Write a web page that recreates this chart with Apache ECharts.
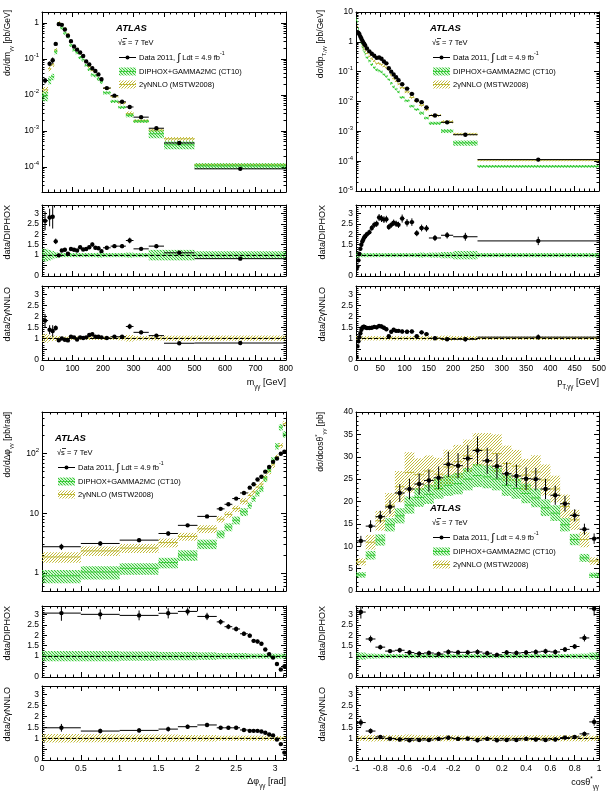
<!DOCTYPE html>
<html>
<head>
<meta charset="utf-8">
<script src="https://cdn.jsdelivr.net/npm/echarts@6/dist/echarts.min.js"></script>
<style>
html, body { margin: 0; padding: 0; background: #fff; }
#chart { width: 611px; height: 797px; }
</style>
</head>
<body>
<div id="chart"></div>
<script>
var FONT = '"Liberation Sans", Arial, sans-serif';

// ---- m_yy ----
var mEdges = [0, 20, 30, 40, 50, 60, 70, 80, 90, 100, 110, 120, 130, 140, 150, 160, 170, 180, 190, 200, 225, 250, 275, 300, 350, 400, 500, 800];
var mData = [0.025, 0.073, 0.091, 0.26, 0.92, 0.88, 0.65, 0.44, 0.31, 0.22, 0.18, 0.15, 0.12, 0.085, 0.07, 0.055, 0.046, 0.037, 0.027, 0.0154, 0.0095, 0.0064, 0.0046, 0.0024, 0.00118, 0.00046, 0.000088];
var mDataErr = [0.17, 0.15, 0.2, 0.08, 0.06, 0.05, 0.05, 0.05, 0.05, 0.05, 0.05, 0.05, 0.05, 0.05, 0.06, 0.06, 0.06, 0.06, 0.06, 0.06, 0.06, 0.07, 0.08, 0.07, 0.07, 0.07, 0.08];
var mDiphox = [0.0095, 0.026, 0.032, 0.157, 0.93, 0.72, 0.52, 0.41, 0.24, 0.175, 0.148, 0.109, 0.094, 0.066, 0.051, 0.036, 0.034, 0.028, 0.023, 0.0114, 0.0066, 0.0045, 0.0027, 0.00185, 0.00083, 0.00041, 0.000106];
var mDiphoxErr = [0.3, 0.25, 0.2, 0.15, 0.12, 0.1, 0.1, 0.1, 0.1, 0.1, 0.1, 0.1, 0.1, 0.1, 0.1, 0.1, 0.1, 0.12, 0.12, 0.1, 0.1, 0.1, 0.12, 0.1, 0.25, 0.25, 0.18];
var mNnlo = [0.0138, 0.053, 0.068, 0.177, 1.01, 0.89, 0.70, 0.49, 0.29, 0.21, 0.19, 0.144, 0.119, 0.082, 0.061, 0.047, 0.043, 0.035, 0.026, 0.0152, 0.0089, 0.006, 0.003, 0.0019, 0.00105, 0.0006, 0.000113];
var mNnloErr = [0.2, 0.15, 0.12, 0.12, 0.1, 0.08, 0.08, 0.08, 0.08, 0.08, 0.08, 0.08, 0.08, 0.08, 0.08, 0.08, 0.08, 0.08, 0.08, 0.08, 0.08, 0.1, 0.15, 0.1, 0.1, 0.12, 0.12];
var mRatioDiphox = [2.64, 2.8, 2.84, 1.66, 0.99, 1.22, 1.26, 1.07, 1.29, 1.26, 1.22, 1.38, 1.27, 1.29, 1.38, 1.51, 1.35, 1.33, 1.19, 1.35, 1.43, 1.43, 1.70, 1.30, 1.43, 1.11, 0.83];
var mRatioNnlo = [1.81, 1.39, 1.33, 1.47, 0.91, 0.99, 0.93, 0.90, 1.07, 1.04, 0.94, 1.04, 1.01, 1.04, 1.15, 1.18, 1.07, 1.07, 1.04, 1.01, 1.07, 1.07, 1.54, 1.27, 1.12, 0.77, 0.78];

// ---- pT,yy ----
var pEdges = [0, 2, 4, 6, 8, 10, 12, 14, 16, 18, 20, 25, 30, 35, 40, 45, 50, 55, 60, 65, 70, 75, 80, 85, 90, 100, 110, 120, 130, 140, 150, 175, 200, 250, 500];
var pData = [2.0, 2.1, 2.0, 1.8, 1.5, 1.3, 1.1, 0.95, 0.85, 0.75, 0.6, 0.48, 0.4, 0.34, 0.29, 0.3, 0.27, 0.22, 0.19, 0.13, 0.1, 0.08, 0.065, 0.052, 0.038, 0.027, 0.018, 0.011, 0.0095, 0.0063, 0.0034, 0.002, 0.00077, 0.000113];
var pDataErr = [0.1, 0.1, 0.1, 0.1, 0.07, 0.07, 0.07, 0.07, 0.07, 0.07, 0.06, 0.06, 0.06, 0.06, 0.06, 0.06, 0.06, 0.06, 0.06, 0.06, 0.06, 0.06, 0.06, 0.06, 0.07, 0.07, 0.07, 0.07, 0.07, 0.07, 0.08, 0.08, 0.1, 0.12];
var pDiphox = [5.7, 4.7, 2.7, 1.7, 1.15, 0.87, 0.67, 0.54, 0.46, 0.39, 0.3, 0.23, 0.174, 0.139, 0.116, 0.107, 0.098, 0.081, 0.07, 0.055, 0.041, 0.031, 0.026, 0.021, 0.0138, 0.0106, 0.007, 0.0054, 0.0041, 0.0028, 0.00187, 0.00103, 0.00041, 0.000067];
var pDiphoxErr = [0.15, 0.15, 0.12, 0.12, 0.1, 0.1, 0.1, 0.1, 0.1, 0.1, 0.1, 0.1, 0.1, 0.1, 0.1, 0.1, 0.1, 0.1, 0.1, 0.1, 0.1, 0.1, 0.1, 0.1, 0.1, 0.1, 0.1, 0.1, 0.12, 0.1, 0.12, 0.15, 0.2, 0.1];
var pNnlo = [15, 3.3, 2.3, 1.7, 1.22, 0.94, 0.74, 0.62, 0.56, 0.5, 0.41, 0.33, 0.27, 0.225, 0.19, 0.19, 0.175, 0.15, 0.135, 0.12, 0.077, 0.058, 0.048, 0.039, 0.029, 0.021, 0.0137, 0.0101, 0.0075, 0.0053, 0.0034, 0.0021, 0.00081, 0.000108];
var pNnloErr = [0.12, 0.1, 0.1, 0.1, 0.1, 0.1, 0.1, 0.1, 0.1, 0.1, 0.1, 0.1, 0.1, 0.1, 0.1, 0.1, 0.1, 0.1, 0.1, 0.1, 0.1, 0.1, 0.1, 0.1, 0.1, 0.1, 0.1, 0.1, 0.1, 0.1, 0.1, 0.12, 0.1, 0.08];
var pRatioDiphox = [0.35, 0.45, 0.75, 1.05, 1.3, 1.5, 1.65, 1.75, 1.85, 1.9, 2.0, 2.1, 2.3, 2.45, 2.5, 2.8, 2.75, 2.7, 2.72, 2.35, 2.45, 2.55, 2.5, 2.45, 2.75, 2.55, 2.58, 2.05, 2.3, 2.28, 1.82, 1.95, 1.88, 1.68];
var pRatioNnlo = [0.13, 0.63, 0.86, 1.05, 1.23, 1.39, 1.48, 1.52, 1.52, 1.5, 1.47, 1.47, 1.48, 1.52, 1.5, 1.56, 1.54, 1.48, 1.41, 1.09, 1.3, 1.39, 1.34, 1.34, 1.31, 1.3, 1.31, 1.09, 1.27, 1.19, 1.0, 0.95, 0.95, 1.05];

// ---- delta phi ----
var dEdges = [0, 0.5, 1.0, 1.5, 1.75, 2.0, 2.25, 2.35, 2.45, 2.55, 2.65, 2.7, 2.75, 2.8, 2.85, 2.9, 2.95, 3.0, 3.05, 3.1, 3.1416];
var dData = [2.76, 3.13, 3.56, 4.6, 6.3, 8.9, 11.9, 14.2, 17.7, 22, 27, 30.7, 37, 41, 50, 60, 73, 83, 100, 108];
var dDataErr = [0.12, 0.08, 0.08, 0.08, 0.06, 0.06, 0.05, 0.05, 0.05, 0.05, 0.05, 0.05, 0.05, 0.05, 0.05, 0.05, 0.05, 0.05, 0.05, 0.06];
var dDiphox = [0.9, 1.04, 1.2, 1.5, 2.0, 3.07, 4.5, 5.9, 7.7, 10.6, 13.6, 17.7, 21.8, 25.8, 38, 55, 78, 134, 278, 212];
var dDiphoxErr = [0.25, 0.25, 0.22, 0.2, 0.2, 0.18, 0.15, 0.15, 0.15, 0.15, 0.12, 0.12, 0.12, 0.12, 0.12, 0.12, 0.12, 0.12, 0.12, 0.12];
var dNnlo = [1.86, 2.35, 2.62, 3.24, 4.1, 5.5, 8.0, 9.6, 12, 16, 20, 23, 27.6, 31, 40, 51, 65, 88, 137, 318];
var dNnloErr = [0.2, 0.18, 0.17, 0.17, 0.15, 0.15, 0.12, 0.12, 0.12, 0.12, 0.12, 0.12, 0.12, 0.12, 0.12, 0.12, 0.12, 0.1, 0.1, 0.1];
var dRatioDiphox = [3.06, 3.0, 2.95, 3.05, 3.14, 2.9, 2.64, 2.41, 2.3, 2.07, 1.98, 1.73, 1.7, 1.59, 1.32, 1.09, 0.93, 0.62, 0.36, 0.51];
var dRatioNnlo = [1.48, 1.33, 1.36, 1.42, 1.53, 1.61, 1.48, 1.48, 1.48, 1.38, 1.34, 1.34, 1.34, 1.31, 1.25, 1.17, 1.13, 0.94, 0.73, 0.34];

// ---- cos theta* ----
var cEdges = [-1, -0.92, -0.84, -0.76, -0.68, -0.6, -0.52, -0.44, -0.36, -0.28, -0.2, -0.12, -0.04, 0.04, 0.12, 0.2, 0.28, 0.36, 0.44, 0.52, 0.6, 0.68, 0.76, 0.84, 0.92, 1];
var cData = [11.2, 14.5, 16.6, 18.8, 21.9, 22.8, 23.9, 24.7, 25.3, 28.3, 28.0, 29.6, 31.4, 29.1, 27.9, 26.2, 25.7, 25.1, 25.0, 22.8, 21.4, 19.5, 16.9, 13.8, 11.7];
var cDataErr = [0.1, 0.09, 0.08, 0.08, 0.09, 0.1, 0.1, 0.1, 0.1, 0.1, 0.1, 0.1, 0.1, 0.1, 0.1, 0.1, 0.1, 0.1, 0.1, 0.1, 0.1, 0.09, 0.08, 0.09, 0.1];
var cDiphox = [3.6, 8.0, 11.4, 14.8, 16.8, 19.2, 20.9, 21.6, 22.9, 23.6, 24.0, 25.0, 25.8, 25.5, 25.0, 23.6, 22.9, 21.8, 20.8, 18.6, 17.4, 14.8, 11.5, 7.4, 3.5];
var cDiphoxErr = [0.17, 0.12, 0.11, 0.1, 0.1, 0.1, 0.1, 0.1, 0.1, 0.1, 0.1, 0.1, 0.1, 0.1, 0.1, 0.1, 0.1, 0.1, 0.1, 0.1, 0.1, 0.1, 0.11, 0.12, 0.17];
var cNnlo = [6.5, 10.9, 15.7, 19.2, 23.3, 26.5, 26.0, 26.8, 26.1, 27.7, 28.9, 30.2, 31.5, 31.5, 30.7, 28.5, 27.9, 25.9, 26.6, 24.8, 22.8, 18.9, 15.9, 11.5, 6.7];
var cNnloErr = [0.12, 0.15, 0.14, 0.14, 0.15, 0.17, 0.14, 0.13, 0.14, 0.14, 0.13, 0.12, 0.12, 0.12, 0.14, 0.14, 0.13, 0.14, 0.14, 0.14, 0.13, 0.14, 0.14, 0.15, 0.12];
var cRatioDiphox = [3.11, 1.82, 1.43, 1.24, 1.28, 1.17, 1.12, 1.15, 1.1, 1.2, 1.18, 1.18, 1.2, 1.14, 1.06, 1.17, 1.15, 1.17, 1.2, 1.23, 1.2, 1.32, 1.46, 1.87, 3.27];
var cRatioNnlo = [1.72, 1.33, 1.06, 0.98, 0.94, 0.91, 0.92, 0.92, 0.97, 1.02, 0.97, 0.98, 0.91, 0.97, 0.91, 0.92, 0.92, 0.97, 0.94, 0.92, 0.94, 1.03, 1.06, 1.2, 1.75];

var chart = echarts.init(document.getElementById('chart'));

// hatched fills like ROOT fill styles
function hatch(color, up, size, lw) {
    var c = document.createElement('canvas');
    c.width = size; c.height = size;
    var g = c.getContext('2d');
    g.strokeStyle = color;
    g.lineWidth = lw;
    g.beginPath();
    for (var k = -1; k <= 1; k++) {
        if (up) { g.moveTo(k * size, size); g.lineTo(k * size + size, 0); }
        else { g.moveTo(k * size, 0); g.lineTo(k * size + size, size); }
    }
    g.stroke();
    return c;
}
var greenFill = { image: hatch('#2ec82e', false, 3, 1.1), repeat: 'repeat' };
var yellowFill = { image: hatch('#c2bb3a', true, 3, 1.0), repeat: 'repeat' };
var GREEN_LINE = '#3ccc3c';
var YELLOW_LINE = '#bfb83a';

function rows(edges, vals, errs) {
    return vals.map(function (v, i) {
        return [edges[i], edges[i + 1], v, v * (1 - errs[i]), v * (1 + errs[i])];
    });
}
function unitRows(edges, errs) {
    return errs.map(function (e, i) {
        return [edges[i], edges[i + 1], 1, 1 - e, 1 + e];
    });
}

function bandRender(fill, lineColor) {
    return function (params, api) {
        var a = api.coord([api.value(0), api.value(4)]);
        var b = api.coord([api.value(1), api.value(3)]);
        var c = api.coord([api.value(0), api.value(2)]);
        var d = api.coord([api.value(1), api.value(2)]);
        return {
            type: 'group', children: [
                { type: 'rect', shape: { x: a[0], y: a[1], width: b[0] - a[0], height: b[1] - a[1] }, style: { fill: fill } },
                { type: 'line', shape: { x1: c[0], y1: c[1], x2: d[0], y2: d[1] }, style: { stroke: lineColor, lineWidth: 1 } }
            ]
        };
    };
}
function dataRender(params, api) {
    var l = api.coord([api.value(0), api.value(2)]);
    var r = api.coord([api.value(1), api.value(2)]);
    var x = (l[0] + r[0]) / 2;
    var lo = api.coord([api.value(0), api.value(3)])[1];
    var hi = api.coord([api.value(0), api.value(4)])[1];
    return {
        type: 'group', children: [
            { type: 'line', shape: { x1: l[0], y1: l[1], x2: r[0], y2: r[1] }, style: { stroke: '#000', lineWidth: 1 } },
            { type: 'line', shape: { x1: x, y1: lo, x2: x, y2: hi }, style: { stroke: '#000', lineWidth: 1 } },
            { type: 'circle', shape: { cx: x, cy: l[1], r: 2.2 }, style: { fill: '#000' } }
        ]
    };
}

function powFmt(v) {
    var e = Math.round(Math.log10(v));
    if (e === 0) return '1';
    if (e === 1) return '10';
    return '10{sup|' + e + '}';
}
function logMinors(lo, hi) {
    var out = [];
    for (var n = -6; n <= 3; n++) {
        for (var k = 2; k <= 9; k++) {
            var v = parseFloat((k * Math.pow(10, n)).toPrecision(6));
            if (v > lo && v < hi) out.push(v);
        }
    }
    return out;
}

var grids = [], xAxes = [], yAxes = [], series = [];
var BLACK = { color: '#000', width: 1 };

function xAxisCfg(gi, xs, pos, showLabel) {
    return {
        type: 'value', gridIndex: gi, position: pos, min: xs.min, max: xs.max, interval: xs.interval,
        axisLine: { show: true, onZero: false, lineStyle: BLACK },
        axisTick: { show: true, inside: true, length: 5, lineStyle: BLACK },
        minorTick: { show: true, splitNumber: xs.minor, length: 2.5, lineStyle: BLACK },
        axisLabel: { show: showLabel, margin: 4, color: '#000', fontSize: 8.5, fontFamily: FONT, showMaxLabel: xs.showMax !== false },
        splitLine: { show: false }
    };
}
function yAxisCfg(gi, ys, pos, showLabel) {
    return {
        type: ys.type || 'value', gridIndex: gi, position: pos, min: ys.min, max: ys.max, interval: ys.interval,
        axisLine: { show: true, onZero: false, lineStyle: BLACK },
        axisTick: { show: true, inside: true, length: 5, lineStyle: BLACK },
        minorTick: { show: !!ys.minor, splitNumber: ys.minor || 5, length: 2.5, lineStyle: BLACK },
        axisLabel: {
            show: showLabel, margin: 3, color: '#000', fontSize: 8.5, fontFamily: FONT, lineHeight: 12,
            formatter: ys.fmt, showMinLabel: ys.showMin !== false, showMaxLabel: ys.showMax !== false,
            rich: { sup: { fontSize: 6, lineHeight: 7, verticalAlign: 'top', color: '#000', fontFamily: FONT } }
        },
        splitLine: { show: false }
    };
}
function minorAxisCfg(gi, ys, pos) {
    return {
        type: 'log', gridIndex: gi, position: pos, min: ys.min, max: ys.max,
        axisLine: { show: false, onZero: false },
        axisTick: { show: true, inside: true, length: 2.5, customValues: logMinors(ys.min, ys.max), lineStyle: BLACK },
        axisLabel: { show: false },
        splitLine: { show: false }
    };
}

function panel(box, xs, ys, showX) {
    var gi = grids.length;
    grids.push({ left: box[0], top: box[1], width: box[2], height: box[3], outerBoundsMode: 'none' });
    var xi = xAxes.length, yi = yAxes.length;
    xAxes.push(xAxisCfg(gi, xs, 'bottom', showX));
    xAxes.push(xAxisCfg(gi, xs, 'top', false));
    yAxes.push(yAxisCfg(gi, ys, 'left', true));
    yAxes.push(yAxisCfg(gi, ys, 'right', false));
    if (ys.type === 'log') {
        yAxes.push(minorAxisCfg(gi, ys, 'left'));
        yAxes.push(minorAxisCfg(gi, ys, 'right'));
    }
    return { x: xi, y: yi };
}
function addCustom(p, data, render, extra) {
    var s = {
        type: 'custom', xAxisIndex: p.x, yAxisIndex: p.y, data: data, renderItem: render,
        clip: true, silent: true, encode: { x: [0, 1], y: [2, 3, 4] }
    };
    for (var k in extra) s[k] = extra[k];
    series.push(s);
}
var unitLine = {
    silent: true, symbol: 'none', label: { show: false },
    lineStyle: { type: 'dashed', color: '#000', width: 1 }, data: [{ yAxis: 1 }]
};
var ratioY = { min: 0, max: 3.4, interval: 0.5, minor: 5, showMax: false };

function block(col, row, xs, ys, edges, d) {
    var left = col === 0 ? 42 : 356, width = col === 0 ? 244 : 243;
    var t = row === 0 ? [12, 205, 286] : [412, 606, 686];
    var mainH = (row === 0 && col === 0) ? 180 : 179;
    var pm = panel([left, t[0], width, mainH], xs, ys, false);
    addCustom(pm, rows(edges, d.nnlo, d.nnloErr), bandRender(yellowFill, YELLOW_LINE));
    addCustom(pm, rows(edges, d.diphox, d.diphoxErr), bandRender(greenFill, GREEN_LINE));
    addCustom(pm, rows(edges, d.data, d.dataErr), dataRender);
    var p1 = panel([left, t[1], width, 71], xs, ratioY, false);
    addCustom(p1, unitRows(edges, d.diphoxErr), bandRender(greenFill, GREEN_LINE));
    addCustom(p1, rows(edges, d.r1, d.dataErr), dataRender, { markLine: unitLine });
    var p2 = panel([left, t[2], width, 74], xs, ratioY, true);
    addCustom(p2, unitRows(edges, d.nnloErr), bandRender(yellowFill, YELLOW_LINE));
    addCustom(p2, rows(edges, d.r2, d.dataErr), dataRender, { markLine: unitLine });
}

block(0, 0, { min: 0, max: 800, interval: 100, minor: 5 },
    { type: 'log', min: 2e-5, max: 2, fmt: powFmt, showMin: false, showMax: false }, mEdges,
    { data: mData, dataErr: mDataErr, diphox: mDiphox, diphoxErr: mDiphoxErr, nnlo: mNnlo, nnloErr: mNnloErr, r1: mRatioDiphox, r2: mRatioNnlo });
block(1, 0, { min: 0, max: 500, interval: 50, minor: 5 },
    { type: 'log', min: 1e-5, max: 10, fmt: powFmt }, pEdges,
    { data: pData, dataErr: pDataErr, diphox: pDiphox, diphoxErr: pDiphoxErr, nnlo: pNnlo, nnloErr: pNnloErr, r1: pRatioDiphox, r2: pRatioNnlo });
block(0, 1, { min: 0, max: 3.1416, interval: 0.5, minor: 5, showMax: false },
    { type: 'log', min: 0.5, max: 500, fmt: powFmt, showMin: false, showMax: false }, dEdges,
    { data: dData, dataErr: dDataErr, diphox: dDiphox, diphoxErr: dDiphoxErr, nnlo: dNnlo, nnloErr: dNnloErr, r1: dRatioDiphox, r2: dRatioNnlo });
block(1, 1, { min: -1, max: 1, interval: 0.2, minor: 4 },
    { min: 0, max: 40, interval: 5, minor: 5 }, cEdges,
    { data: cData, dataErr: cDataErr, diphox: cDiphox, diphoxErr: cDiphoxErr, nnlo: cNnlo, nnloErr: cNnloErr, r1: cRatioDiphox, r2: cRatioNnlo });

// ---- texts ----
function rich(size) {
    return {
        n: { fontSize: size, fontFamily: FONT, fill: '#000', lineHeight: size + 5 },
        s: { fontSize: size * 0.7, fontFamily: FONT, fill: '#000', lineHeight: size * 0.7, verticalAlign: 'bottom' },
        u: { fontSize: size * 0.7, fontFamily: FONT, fill: '#000', lineHeight: size * 0.7, verticalAlign: 'top' },
        i: { fontSize: size * 1.45, fontFamily: FONT, fill: '#000', lineHeight: size + 5 }
    };
}
function vTitle(x, y, text, size) {
    return { type: 'text', x: x, y: y, rotation: Math.PI / 2, z: 100,
        style: { text: text, rich: rich(size), align: 'right', verticalAlign: 'middle' } };
}
function hTitle(x, y, text, size) {
    return { type: 'text', x: x, y: y, z: 100,
        style: { text: text, rich: rich(size), align: 'right', verticalAlign: 'middle' } };
}
function legendBlock(x, y) {
    var fs = 7.5;
    return [
        { type: 'text', x: x - 3, y: y, z: 100, style: { text: 'ATLAS', fontSize: 9.5, fontWeight: 'bold', fontStyle: 'italic', fontFamily: FONT, fill: '#000', verticalAlign: 'middle' } },
        { type: 'text', x: x - 1, y: y + 15, z: 100, style: { text: '√s = 7 TeV', fontSize: fs, fontFamily: FONT, fill: '#000', verticalAlign: 'middle' } },
        { type: 'line', z: 100, shape: { x1: x + 4, y1: y + 10.5, x2: x + 8, y2: y + 10.5 }, style: { stroke: '#000', lineWidth: 0.8 } },
        { type: 'line', z: 100, shape: { x1: x, y1: y + 29.5, x2: x + 17, y2: y + 29.5 }, style: { stroke: '#000', lineWidth: 1 } },
        { type: 'circle', z: 100, shape: { cx: x + 8.5, cy: y + 29.5, r: 2 }, style: { fill: '#000' } },
        { type: 'text', x: x + 20, y: y + 29.5, z: 100, style: { text: '{n|Data 2011, }{i|∫}{n| Ldt = 4.9 fb}{u|-1}', rich: rich(fs), verticalAlign: 'middle' } },
        { type: 'rect', z: 100, shape: { x: x, y: y + 39.5, width: 17, height: 8 }, style: { fill: greenFill } },
        { type: 'line', z: 100, shape: { x1: x, y1: y + 43.5, x2: x + 17, y2: y + 43.5 }, style: { stroke: GREEN_LINE, lineWidth: 1 } },
        { type: 'text', x: x + 20, y: y + 43.5, z: 100, style: { text: 'DIPHOX+GAMMA2MC (CT10)', fontSize: fs, fontFamily: FONT, fill: '#000', verticalAlign: 'middle' } },
        { type: 'rect', z: 100, shape: { x: x, y: y + 52.5, width: 17, height: 8 }, style: { fill: yellowFill } },
        { type: 'line', z: 100, shape: { x1: x, y1: y + 56.5, x2: x + 17, y2: y + 56.5 }, style: { stroke: YELLOW_LINE, lineWidth: 1 } },
        { type: 'text', x: x + 20, y: y + 56.5, z: 100, style: { text: '2γNNLO (MSTW2008)', fontSize: fs, fontFamily: FONT, fill: '#000', verticalAlign: 'middle' } }
    ];
}

var graphics = [
    vTitle(8, 10, '{n|dσ/dm}{s|γγ}{n| [pb/GeV]}', 8.5),
    vTitle(8, 205, '{n|data/DIPHOX}', 9),
    vTitle(8, 287, '{n|data/2γNNLO}', 9),
    hTitle(286, 383, '{n|m}{s|γγ}{n| [GeV]}', 9),
    vTitle(321, 10, '{n|dσ/dp}{s|T,γγ}{n| [pb/GeV]}', 8.5),
    vTitle(323, 205, '{n|data/DIPHOX}', 9),
    vTitle(323, 287, '{n|data/2γNNLO}', 9),
    hTitle(599, 383, '{n|p}{s|T,γγ}{n| [GeV]}', 9),
    vTitle(8, 412, '{n|dσ/dΔφ}{s|γγ}{n| [pb/rad]}', 8.5),
    vTitle(8, 606, '{n|data/DIPHOX}', 9),
    vTitle(8, 687, '{n|data/2γNNLO}', 9),
    hTitle(286, 782, '{n|Δφ}{s|γγ}{n| [rad]}', 9),
    vTitle(321, 412, '{n|dσ/dcosθ}{u|*}{s|γγ}{n| [pb]}', 8.5),
    vTitle(323, 606, '{n|data/DIPHOX}', 9),
    vTitle(323, 687, '{n|data/2γNNLO}', 9),
    hTitle(599, 783, '{n|cosθ}{u|*}{s|γγ}', 9)
]
    .concat(legendBlock(119, 28))
    .concat(legendBlock(433, 28))
    .concat(legendBlock(58, 438))
    .concat(legendBlock(433, 508));

chart.setOption({
    animation: false,
    backgroundColor: '#fff',
    grid: grids,
    xAxis: xAxes,
    yAxis: yAxes,
    series: series,
    graphic: graphics
});
</script>
</body>
</html>
